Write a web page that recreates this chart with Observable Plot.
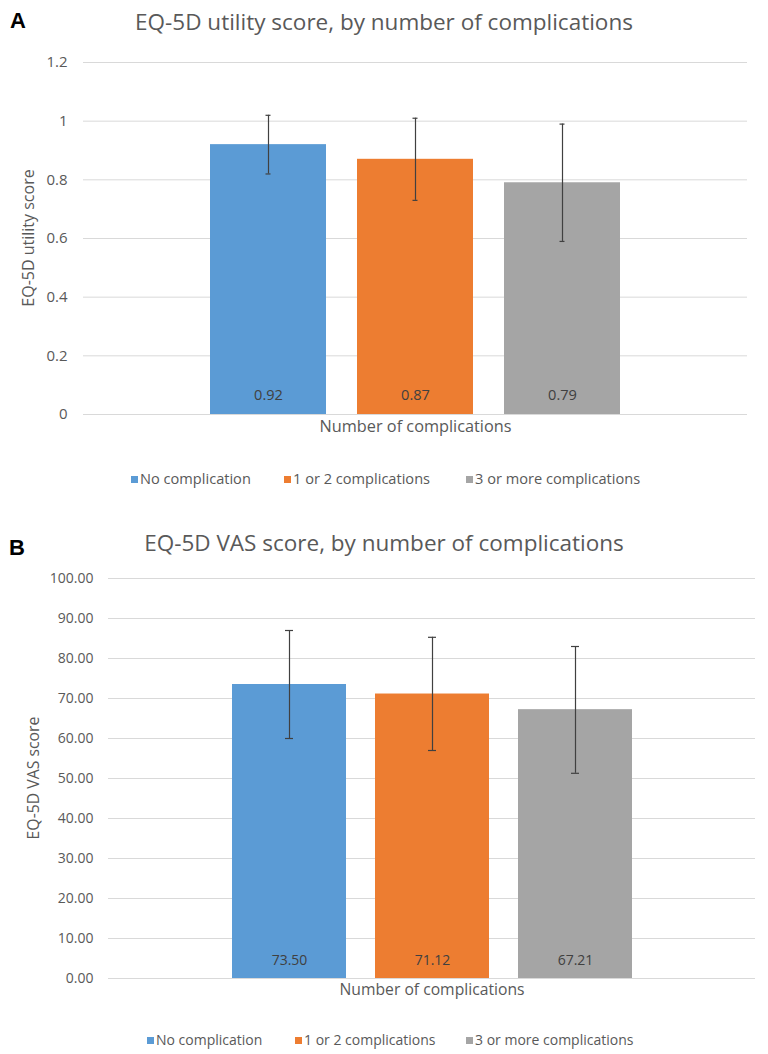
<!DOCTYPE html>
<html><head><meta charset="utf-8">
<script src="https://cdn.jsdelivr.net/npm/d3@7"></script>
<script src="https://cdn.jsdelivr.net/npm/@observablehq/plot@0.6"></script>
<style>
body{margin:0;background:#fff;}
#root{position:relative;width:768px;height:1054px;overflow:hidden;font-family:"Open Sans",sans-serif;color:#595959;background:#fff;}
.abs{position:absolute;white-space:nowrap;}
.letter{font-family:"Liberation Sans",Arial,sans-serif;font-weight:bold;color:#000;font-size:22px;line-height:22px;}
.title{left:0;width:768px;text-align:center;font-size:22.5px;line-height:30px;}
.leg{line-height:20px;}
.ylab{line-height:20px;width:300px;text-align:center;transform:rotate(-90deg);}
.sw{display:inline-block;width:7px;height:7px;margin-right:2px;vertical-align:middle;position:relative;top:-1px;}
svg{position:absolute;left:0;}
</style></head><body><div id="root"></div>
<script>
// ---- data ----
const series = ["No complication", "1 or 2 complications", "3 or more complications"];
const colors = ["#5B9BD5", "#ED7D31", "#A5A5A5"];

const utilityMean = [0.92, 0.87, 0.79];
const utilityLow = [0.82, 0.73, 0.59];
const utilityHigh = [1.02, 1.01, 0.99];
const utilityTicks = [0, 0.2, 0.4, 0.6, 0.8, 1, 1.2];
const utilityTickLabels = ["0", "0.2", "0.4", "0.6", "0.8", "1", "1.2"];

const vasMean = [73.50, 71.12, 67.21];
const vasLow = [60.0, 57.0, 51.3];
const vasHigh = [87.0, 85.3, 83.0];
const vasTicks = [0, 10, 20, 30, 40, 50, 60, 70, 80, 90, 100];
const vasTickLabels = ["0.00", "10.00", "20.00", "30.00", "40.00", "50.00", "60.00", "70.00", "80.00", "90.00", "100.00"];

const titleA = "EQ-5D utility score, by number of complications";
const titleB = "EQ-5D VAS score, by number of complications";
const yLabelA = "EQ-5D utility score";
const yLabelB = "EQ-5D VAS score";
const xLabel = "Number of complications";

const root = document.getElementById("root");
function addDiv(cls, text, css) {
  const d = document.createElement("div");
  d.className = "abs " + cls;
  d.textContent = text;
  Object.assign(d.style, css);
  root.appendChild(d);
  return d;
}
function addYLabel(text, cx, cy, fontSize) {
  // rotated label centred on (cx, cy)
  addDiv("ylab", text, {left: (cx - 150) + "px", top: (cy - 10) + "px", fontSize: fontSize + "px"});
}
function addLegend(top, lefts, fontSize) {
  series.forEach((s, i) => {
    const d = document.createElement("div");
    d.className = "abs leg";
    Object.assign(d.style, {top: top + "px", left: lefts[i] + "px", fontSize: fontSize + "px"});
    const sw = document.createElement("span");
    sw.className = "sw";
    sw.style.background = colors[i];
    d.appendChild(sw);
    d.appendChild(document.createTextNode(s));
    root.appendChild(d);
  });
}

function makePanel(o) {
  const data = series.map((s, i) => ({series: s, value: o.mean[i], lo: o.low[i], hi: o.high[i]}));
  const p = Plot.plot({
    width: 768, height: o.height,
    marginTop: o.mt, marginBottom: o.mb, marginLeft: o.ml, marginRight: o.mr,
    style: {fontFamily: '"Open Sans",sans-serif', fontSize: o.fs + "px", color: "#595959", background: "transparent", overflow: "visible"},
    x: {domain: series, paddingInner: o.pi, paddingOuter: o.po, axis: null},
    y: {domain: [0, o.ticks[o.ticks.length - 1]], label: null},
    color: {domain: series, range: colors},
    marks: [
      Plot.gridY(o.ticks, {stroke: "#D9D9D9", strokeOpacity: 1, strokeWidth: 1}),
      Plot.barY(data, {x: "series", y: "value", fill: "series"}),
      Plot.ruleX(data, {x: "series", y1: "lo", y2: "hi", stroke: "#404040", strokeWidth: 1.2}),
      Plot.tickY(data, {x: "series", y: "hi", stroke: "#404040", strokeWidth: 1.2, insetLeft: o.cap, insetRight: o.cap}),
      Plot.tickY(data, {x: "series", y: "lo", stroke: "#404040", strokeWidth: 1.2, insetLeft: o.cap, insetRight: o.cap}),
      Plot.text(data, {x: "series", y: 0, text: d => d.value.toFixed(2), dy: o.labelDy, fill: "#404040", fontSize: o.lfs}),
      Plot.axisY(o.ticks, {tickSize: 0, tickPadding: o.tp, fontSize: o.fs, tickFormat: d => o.tickLabels[o.ticks.indexOf(d)], label: null}),
      Plot.text([xLabel], {frameAnchor: "bottom", dy: o.xlDy, fill: "#595959", fontSize: o.xlfs})
    ]
  });
  p.style.top = o.top + "px";
  root.appendChild(p);
}

// Panel A
addDiv("letter", "A", {left: "10px", top: "10px"});
addDiv("title", titleA, {top: "7px"});
makePanel({
  mean: utilityMean, low: utilityLow, high: utilityHigh, ticks: utilityTicks, tickLabels: utilityTickLabels,
  top: 40, height: 420, mt: 22, mb: 46, ml: 83, mr: 21, pi: 0.214, po: 0.858, cap: 55.5,
  fs: 15, tp: 16, lfs: 14.6, labelDy: -19, xlDy: 17, xlfs: 16.3
});
addYLabel(yLabelA, 28, 238, 16);
addLegend(468, [131, 284, 466], 14.6);

// Panel B
addDiv("letter", "B", {left: "9px", top: "537px"});
addDiv("title", titleB, {top: "528px"});
makePanel({
  mean: vasMean, low: vasLow, high: vasHigh, ticks: vasTicks, tickLabels: vasTickLabels,
  top: 560, height: 450, mt: 18, mb: 32, ml: 108, mr: 13, pi: 0.206, po: 0.865, cap: 53,
  fs: 14, tp: 15, lfs: 14, labelDy: -18, xlDy: 16, xlfs: 15.7
});
addYLabel(yLabelB, 33, 778, 15.8);
addLegend(1030, [147, 295, 466], 14);
</script></body></html>
